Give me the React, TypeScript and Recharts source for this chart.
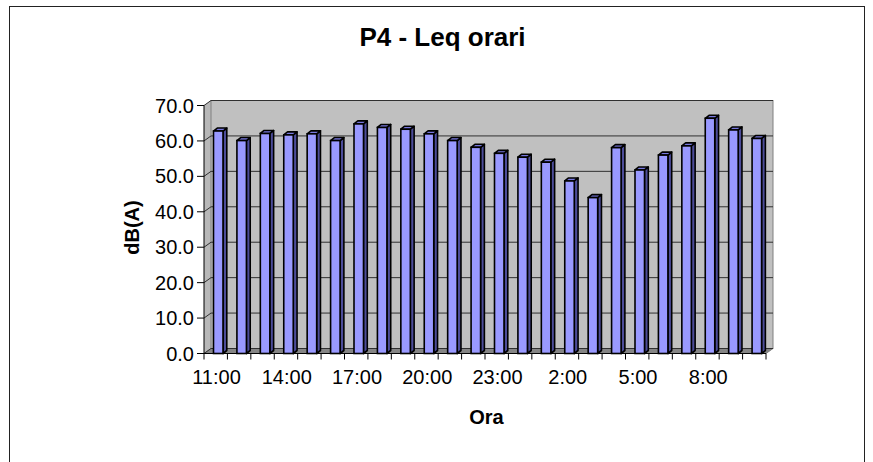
import React from 'react';
import { BarChart, Bar, XAxis, YAxis, CartesianGrid, ReferenceArea, Label } from 'recharts';

const hours = [
  '11:00', '12:00', '13:00', '14:00', '15:00', '16:00', '17:00', '18:00',
  '19:00', '20:00', '21:00', '22:00', '23:00', '0:00', '1:00', '2:00',
  '3:00', '4:00', '5:00', '6:00', '7:00', '8:00', '9:00', '10:00',
];
const leq = [
  62.8, 60.1, 62.1, 61.7, 62.0, 60.1, 64.8, 63.8,
  63.3, 62.0, 60.1, 58.2, 56.5, 55.4, 54.0, 48.7,
  44.0, 58.1, 51.8, 56.0, 58.6, 66.4, 63.1, 60.7,
];
const yTicks = [0, 10, 20, 30, 40, 50, 60, 70];
const chartTitle = 'P4 - Leq orari';
const yTitle = 'dB(A)';
const xTitle = 'Ora';

const data = hours.map((h, i) => ({ hour: h, leq: leq[i] }));

const W = 873;
const H = 462;
const FONT = '"Liberation Sans", Arial, Helvetica, sans-serif';
const WALL_DX = 7;
const WALL_DY = -5;

const Walls = (props: any) => {
  const { x, y, width, height } = props;
  const b = y + height;
  return (
    <g>
      <polygon
        points={`${x},${y} ${x + WALL_DX},${y + WALL_DY} ${x + WALL_DX},${b + WALL_DY} ${x},${b}`}
        fill="#B8B8B8"
        stroke="none"
      />
      <rect
        x={x + WALL_DX}
        y={y + WALL_DY}
        width={width}
        height={height}
        fill="#C0C0C0"
        stroke="#808080"
        strokeWidth={1}
      />
      <polygon
        points={`${x},${b} ${x + WALL_DX},${b + WALL_DY} ${x + width + WALL_DX},${b + WALL_DY} ${x + width},${b}`}
        fill="#858585"
        stroke="#808080"
        strokeWidth={1}
      />
    </g>
  );
};

const GridLine = (p: any) => {
  const { x1, y1, x2 } = p;
  return (
    <polyline
      key={p.key}
      points={`${x1},${y1} ${x1 + WALL_DX},${y1 + WALL_DY} ${x2 + WALL_DX},${y1 + WALL_DY}`}
      fill="none"
      stroke="#303030"
      strokeWidth={1}
    />
  );
};

const Bar3D = (props: any) => {
  const { x, y, width, height } = props;
  if (!(height > 0)) return null;
  const fx = x + 2.5;
  const dx = 3.8;
  const dy = -3;
  const b = y + height;
  const sw = 1.6;
  return (
    <g>
      <polygon
        points={`${fx + width},${y} ${fx + width + dx},${y + dy} ${fx + width + dx},${b + dy} ${fx + width},${b}`}
        fill="#4C4C99"
        stroke="#000"
        strokeWidth={sw}
        strokeLinejoin="round"
      />
      <polygon
        points={`${fx},${y} ${fx + dx},${y + dy} ${fx + width + dx},${y + dy} ${fx + width},${y}`}
        fill="#7777DD"
        stroke="#000"
        strokeWidth={sw}
        strokeLinejoin="round"
      />
      <rect x={fx} y={y} width={width} height={height} fill="#9999FF" stroke="#000" strokeWidth={sw} />
    </g>
  );
};

const XTick = (props: any) => {
  const { x, y, payload, index } = props;
  const half = payload && payload.offset ? payload.offset : 562 / 48;
  const top = y - 8;
  const lines = [
    <line key="l" x1={x - half} y1={top} x2={x - half} y2={top + 6} stroke="#000" strokeWidth={1} />,
  ];
  if (index === hours.length - 1) {
    lines.push(<line key="r" x1={x + half} y1={top} x2={x + half} y2={top + 6} stroke="#000" strokeWidth={1} />);
  }
  return (
    <g>
      {lines}
      {index % 3 === 0 ? (
        <text x={x + 0.8} y={y + 22.5} textAnchor="middle" fontSize={20} fontFamily={FONT} fill="#000">
          {payload.value}
        </text>
      ) : null}
    </g>
  );
};

export default function App() {
  return (
    <div style={{ position: 'absolute', left: 0, top: 0, width: W, height: H, overflow: 'hidden', background: '#fff' }}>
      <div
        style={{
          position: 'absolute',
          left: 9,
          top: 6,
          width: 856,
          height: 520,
          border: '1px solid #222',
          boxSizing: 'border-box',
        }}
      />
      <div style={{ position: 'absolute', left: 0, top: 0 }}>
        <BarChart
          width={W}
          height={H}
          data={data}
          margin={{ top: 105.5, right: 107, bottom: 78.5, left: 144 }}
          barSize={9.5}
        >
          <ReferenceArea y1={0} y2={70} shape={Walls} ifOverflow="visible" zIndex={-200} />
          <CartesianGrid vertical={false} horizontal={GridLine} zIndex={-100} />
          <XAxis
            dataKey="hour"
            interval={0}
            height={30}
            tickLine={false}
            tickSize={6}
            tickMargin={2}
            axisLine={{ stroke: '#000', strokeWidth: 1 }}
            tick={XTick}
          >
            <Label
              content={(p: any) => {
                const vb = p.viewBox || { x: 204, y: 353.5, width: 562 };
                return (
                  <text
                    x={vb.x + vb.width / 2 + 1.5}
                    y={vb.y + 70}
                    textAnchor="middle"
                    fontSize={20}
                    fontWeight="bold"
                    fontFamily={FONT}
                    fill="#000"
                  >
                    {xTitle}
                  </text>
                );
              }}
            />
          </XAxis>
          <YAxis
            domain={[0, 70]}
            ticks={yTicks}
            interval={0}
            width={60}
            tickSize={7}
            tickMargin={3}
            tickLine={{ stroke: '#000' }}
            axisLine={{ stroke: '#000', strokeWidth: 1 }}
            tickFormatter={(v: number) => v.toFixed(1)}
            tick={{ fontSize: 20, fontFamily: FONT, fill: '#000' }}
          >
            <Label
              content={(p: any) => {
                const vb = p.viewBox || { x: 144, y: 105.5, height: 248 };
                const cx = vb.x - 12;
                const cy = vb.y + vb.height / 2 - 2;
                return (
                  <text
                    x={cx}
                    y={cy}
                    transform={`rotate(-90 ${cx} ${cy})`}
                    textAnchor="middle"
                    dominantBaseline="central"
                    fontSize={20}
                    fontWeight="bold"
                    fontFamily={FONT}
                    fill="#000"
                  >
                    {yTitle}
                  </text>
                );
              }}
            />
          </YAxis>
          <Bar dataKey="leq" shape={Bar3D} isAnimationActive={false} />
        </BarChart>
      </div>
      <svg width={W} height={60} style={{ position: 'absolute', left: 0, top: 0 }}>
        <text x={442.5} y={45.7} textAnchor="middle" fontSize={26} fontWeight="bold" fontFamily={FONT} fill="#000">
          {chartTitle}
        </text>
      </svg>
    </div>
  );
}
